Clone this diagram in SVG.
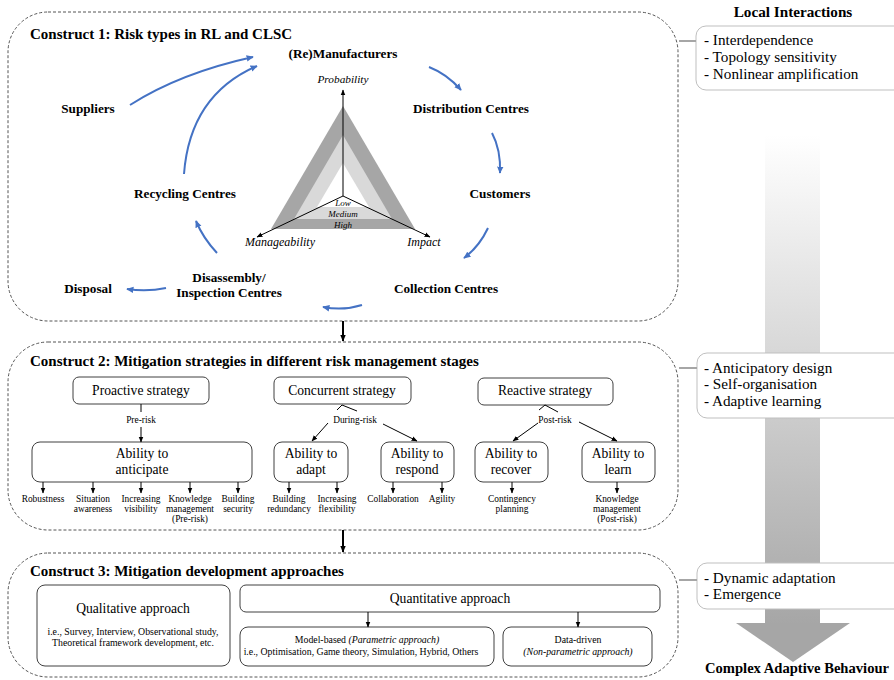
<svg xmlns="http://www.w3.org/2000/svg" width="894" height="680" viewBox="0 0 894 680" font-family="'Liberation Serif', 'Times New Roman', serif">
<defs>
<marker id="ab" viewBox="0 0 10 10" refX="8" refY="5" markerWidth="4" markerHeight="4" orient="auto" markerUnits="strokeWidth"><path d="M0,1 L9,5 L0,9 Z" fill="#4472c4"/></marker>
<marker id="ak" viewBox="0 0 10 10" refX="9" refY="5" markerWidth="6" markerHeight="6" orient="auto" markerUnits="userSpaceOnUse"><path d="M0,1 L10,5 L0,9 Z" fill="#000"/></marker>
<marker id="akb" viewBox="0 0 10 10" refX="9" refY="5" markerWidth="7" markerHeight="7" orient="auto" markerUnits="userSpaceOnUse"><path d="M0,1 L10,5 L0,9 Z" fill="#000"/></marker>
<linearGradient id="bar" x1="0" y1="135" x2="0" y2="625" gradientUnits="userSpaceOnUse"><stop offset="0" stop-color="#ffffff"/><stop offset="1" stop-color="#a6a6a6"/></linearGradient>
</defs>
<style>
text{font-family:'Liberation Serif','Times New Roman',serif;fill:#000}
.title{font-size:15px;font-weight:bold}
.node{font-size:13.2px;font-weight:bold;text-anchor:middle}
.ax{font-size:11.3px;font-style:italic;text-anchor:middle}
.lvl{font-size:9px;font-style:italic;text-anchor:middle}
.cons{fill:none;stroke:#555;stroke-width:1;stroke-dasharray:3 2}
.box{fill:#fff;stroke:#404040;stroke-width:1}
.sbox{fill:#fff;stroke:#bfbfbf;stroke-width:1}
.bt{font-size:13.6px;text-anchor:middle}
.sm{font-size:9.4px;text-anchor:middle}
.sm3{font-size:9.8px;text-anchor:middle}
.side{font-size:15.2px}
.hd{font-size:15.2px;font-weight:bold;text-anchor:middle}
.blue{fill:none;stroke:#4472c4;stroke-width:2;marker-end:url(#ab)}
.k{fill:none;stroke:#000;stroke-width:1;marker-end:url(#ak)}
.kl{fill:none;stroke:#000;stroke-width:1}
.conn{stroke:#a6a6a6;stroke-width:2}
</style>

<!-- gradient arrow -->
<g id="cas-arrow">
<rect x="765" y="135" width="55" height="490" fill="url(#bar)"/>
<polygon points="736,623 850,623 793,662" fill="#a6a6a6"/>
<text class="hd" x="797" y="673" style="font-size:14.6px">Complex Adaptive Behaviour</text>
</g>

<!-- Construct 1 -->
<g id="construct1">
<rect class="cons" x="8" y="12" width="670" height="309" rx="40" ry="40"/>
<text class="title" x="30" y="39">Construct 1: Risk types in RL and CLSC</text>
</g>
<g id="n-manufacturers"><text class="node" x="343" y="58">(Re)Manufacturers</text></g>
<g id="n-suppliers"><text class="node" x="88" y="113">Suppliers</text></g>
<g id="n-distribution"><text class="node" x="471" y="113">Distribution Centres</text></g>
<g id="n-recycling"><text class="node" x="185" y="198">Recycling Centres</text></g>
<g id="n-customers"><text class="node" x="500" y="198">Customers</text></g>
<g id="n-disassembly"><text class="node" x="229" y="282">Disassembly/</text><text class="node" x="229" y="297">Inspection Centres</text></g>
<g id="n-disposal"><text class="node" x="88" y="293">Disposal</text></g>
<g id="n-collection"><text class="node" x="446" y="293">Collection Centres</text></g>

<g id="risk-triangle">
<polygon points="343,106 271,229 415,229" fill="#a6a6a6"/>
<polygon points="343,135 294,219 392,219" fill="#d9d9d9"/>
<polygon points="343,163 317,207 369,207" fill="#fff"/>
<line class="k" x1="343" y1="196" x2="343" y2="90"/>
<line class="k" x1="343" y1="196" x2="257" y2="237"/>
<line class="k" x1="343" y1="196" x2="430" y2="237"/>
<text class="ax" x="343" y="83">Probability</text>
<text class="ax" x="280" y="246" style="font-size:12px">Manageability</text>
<text class="ax" x="424" y="246" style="font-size:12px">Impact</text>
<text class="lvl" x="343" y="206">Low</text>
<text class="lvl" x="343" y="217">Medium</text>
<text class="lvl" x="343" y="228">High</text>
</g>

<!-- Construct 2 -->
<g id="construct2">
<rect class="cons" x="8" y="342" width="670" height="188" rx="40" ry="40"/>
<text class="title" x="30" y="366">Construct 2: Mitigation strategies in different risk management stages</text>
</g>
<g id="proactive"><rect class="box" x="73" y="377" width="136" height="27" rx="6"/><text class="bt" x="141" y="395">Proactive strategy</text></g>
<g id="concurrent"><rect class="box" x="274" y="377" width="137" height="27" rx="6"/><text class="bt" x="342" y="395">Concurrent strategy</text></g>
<g id="reactive"><rect class="box" x="478" y="378" width="135" height="27" rx="6"/><text class="bt" x="545" y="395">Reactive strategy</text></g>
<g id="anticipate"><rect class="box" x="32" y="442" width="220" height="40" rx="8"/><text class="bt" x="142" y="458">Ability to</text><text class="bt" x="142" y="474">anticipate</text></g>
<g id="adapt"><rect class="box" x="274" y="442" width="74" height="40" rx="8"/><text class="bt" x="311" y="458">Ability to</text><text class="bt" x="311" y="474">adapt</text></g>
<g id="respond"><rect class="box" x="381" y="442" width="73" height="40" rx="8"/><text class="bt" x="417" y="458">Ability to</text><text class="bt" x="417" y="474">respond</text></g>
<g id="recover"><rect class="box" x="475" y="442" width="73" height="40" rx="8"/><text class="bt" x="511" y="458">Ability to</text><text class="bt" x="511" y="474">recover</text></g>
<g id="learn"><rect class="box" x="582" y="442" width="73" height="40" rx="8"/><text class="bt" x="618" y="458">Ability to</text><text class="bt" x="618" y="474">learn</text></g>

<g id="c2-labels">
<text class="sm" x="141" y="423">Pre-risk</text>
<text class="sm" x="355" y="423">During-risk</text>
<text class="sm" x="555" y="423">Post-risk</text>
<text class="sm" x="43" y="502">Robustness</text>
<text class="sm" x="93" y="502">Situation</text><text class="sm" x="93" y="512">awareness</text>
<text class="sm" x="141" y="502">Increasing</text><text class="sm" x="141" y="512">visibility</text>
<text class="sm" x="190" y="502">Knowledge</text><text class="sm" x="190" y="512">management</text><text class="sm" x="190" y="522">(Pre-risk)</text>
<text class="sm" x="238" y="502">Building</text><text class="sm" x="238" y="512">security</text>
<text class="sm" x="289" y="502">Building</text><text class="sm" x="289" y="512">redundancy</text>
<text class="sm" x="337" y="502">Increasing</text><text class="sm" x="337" y="512">flexibility</text>
<text class="sm" x="393" y="502">Collaboration</text>
<text class="sm" x="442" y="502">Agility</text>
<text class="sm" x="512" y="502">Contingency</text><text class="sm" x="512" y="512">planning</text>
<text class="sm" x="617" y="502">Knowledge</text><text class="sm" x="617" y="512">management</text><text class="sm" x="617" y="522">(Post-risk)</text>
</g>

<!-- Construct 3 -->
<g id="construct3">
<rect class="cons" x="8" y="553" width="670" height="124" rx="40" ry="40"/>
<text class="title" x="30" y="576">Construct 3: Mitigation development approaches</text>
</g>
<g id="qualitative"><rect class="box" x="37" y="585" width="193" height="81" rx="8"/><text class="bt" x="133" y="613">Qualitative approach</text><text class="sm3" x="133" y="635">i.e., Survey, Interview, Observational study,</text><text class="sm3" x="133" y="646">Theoretical framework development, etc.</text></g>
<g id="quantitative"><rect class="box" x="240" y="585" width="420" height="27" rx="6"/><text class="bt" x="450" y="603">Quantitative approach</text></g>
<g id="model-based"><rect class="box" x="240" y="627" width="254" height="39" rx="8"/><text class="sm3" x="367" y="643">Model-based <tspan font-style="italic">(Parametric approach)</tspan></text><text class="sm3" x="361" y="655">i.e., Optimisation, Game theory, Simulation, Hybrid, Others</text></g>
<g id="data-driven"><rect class="box" x="503" y="627" width="149" height="39" rx="8"/><text class="sm3" x="578" y="643">Data-driven</text><text class="sm3" x="578" y="655" font-style="italic">(Non-parametric approach)</text></g>

<!-- side notes -->
<text class="hd" x="793" y="17">Local Interactions</text>
<g id="note-local"><rect class="sbox" x="696" y="26" width="210" height="64" rx="10"/><text class="side" x="704" y="45">- Interdependence</text><text class="side" x="704" y="62">- Topology sensitivity</text><text class="side" x="704" y="79">- Nonlinear amplification</text></g>
<g id="note-c2"><rect class="sbox" x="697" y="353" width="210" height="65" rx="10"/><text class="side" x="704" y="373">- Anticipatory design</text><text class="side" x="704" y="389">- Self-organisation</text><text class="side" x="704" y="406">- Adaptive learning</text></g>
<g id="note-c3"><rect class="sbox" x="697" y="563" width="210" height="46" rx="10"/><text class="side" x="704" y="583">- Dynamic adaptation</text><text class="side" x="704" y="599">- Emergence</text></g>

<!-- connectors -->
<g id="connectors">
<path class="blue" d="M130,105 Q180,73 253,57"/>
<path class="blue" d="M184,174 Q190,95 257,66"/>
<path class="blue" d="M429,67 Q447,74 461,90"/>
<path class="blue" d="M492,133 Q501,150 500,173"/>
<path class="blue" d="M488,228 Q479,247 464,258"/>
<path class="blue" d="M362,305 Q343,311 323,307"/>
<path class="blue" d="M166,288 Q147,292 127,289"/>
<path class="blue" d="M217,253 Q203,238 196,221"/>
<line x1="343" y1="321" x2="343" y2="341" style="stroke:#000;stroke-width:2;marker-end:url(#akb)"/>
<line x1="343" y1="530" x2="343" y2="552" style="stroke:#000;stroke-width:2;marker-end:url(#akb)"/>
<line class="conn" x1="679" y1="41" x2="696" y2="41"/>
<line class="conn" x1="679" y1="368" x2="697" y2="368"/>
<line class="conn" x1="679" y1="580" x2="697" y2="580"/>
<line class="kl" x1="141" y1="404" x2="141" y2="412"/>
<line class="k" x1="141" y1="427" x2="141" y2="442"/>
<polyline class="kl" points="337,410 342,405 357,411"/>
<line class="k" x1="328" y1="423" x2="312" y2="441"/>
<line class="k" x1="383" y1="424" x2="417" y2="441"/>
<polyline class="kl" points="539,410 545,405 558,412"/>
<line class="k" x1="538" y1="423" x2="513" y2="441"/>
<line class="k" x1="579" y1="422" x2="617" y2="441"/>
<line class="k" x1="43" y1="482" x2="43" y2="493"/>
<line class="k" x1="93" y1="482" x2="93" y2="493"/>
<line class="k" x1="141" y1="482" x2="141" y2="493"/>
<line class="k" x1="190" y1="482" x2="190" y2="493"/>
<line class="k" x1="238" y1="482" x2="238" y2="493"/>
<line class="k" x1="289" y1="482" x2="289" y2="493"/>
<line class="k" x1="337" y1="482" x2="337" y2="493"/>
<line class="k" x1="393" y1="482" x2="393" y2="493"/>
<line class="k" x1="442" y1="482" x2="442" y2="493"/>
<line class="k" x1="512" y1="482" x2="512" y2="493"/>
<line class="k" x1="617" y1="482" x2="617" y2="493"/>
<line class="k" x1="368" y1="612" x2="368" y2="627"/>
<line class="k" x1="578" y1="612" x2="578" y2="627"/>
</g>
</svg>
